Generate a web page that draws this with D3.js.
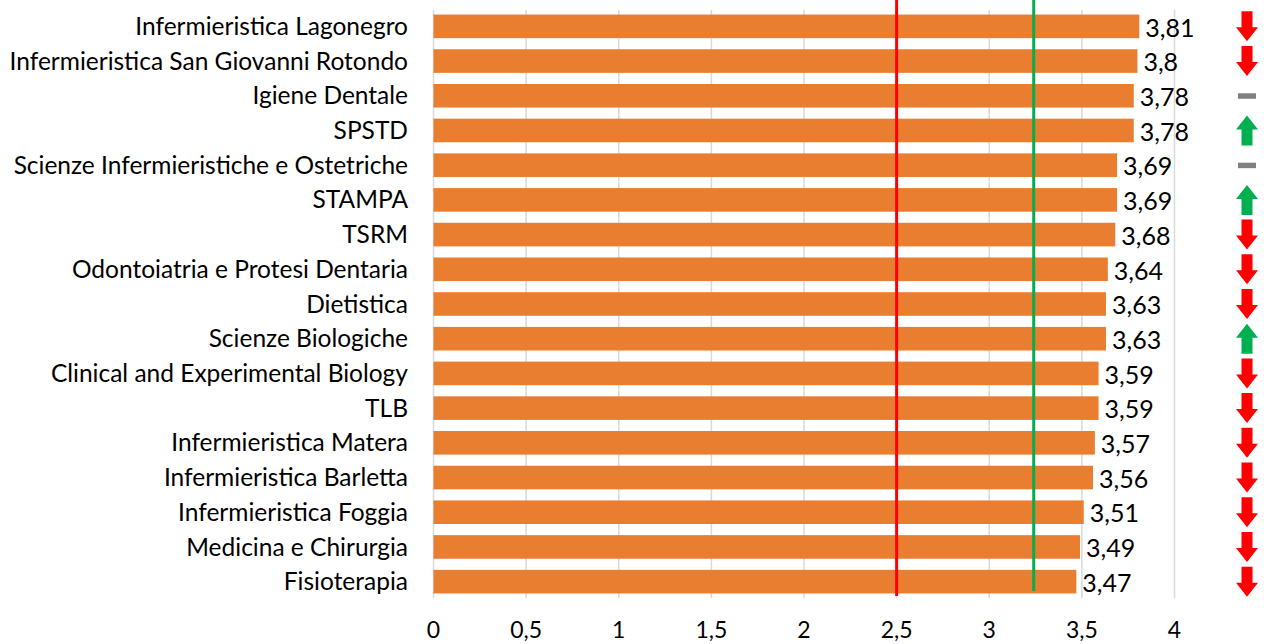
<!DOCTYPE html>
<html lang="it">
<head>
<meta charset="utf-8">
<title>Corsi di laurea</title>
<style>
  body { margin: 0; background: #fff; }
  text { font-family: Lato, "Open Sans", sans-serif; fill: #000; }
</style>
</head>
<body>
<svg width="1264" height="644"></svg>
<script src="https://d3js.org/d3.v7.min.js"></script>
<script>
// data
var corsi = ["Infermieristica Lagonegro", "Infermieristica San Giovanni Rotondo", "Igiene Dentale",
  "SPSTD", "Scienze Infermieristiche e Ostetriche", "STAMPA", "TSRM",
  "Odontoiatria e Protesi Dentaria", "Dietistica", "Scienze Biologiche",
  "Clinical and Experimental Biology", "TLB", "Infermieristica Matera",
  "Infermieristica Barletta", "Infermieristica Foggia", "Medicina e Chirurgia", "Fisioterapia"];
var punteggi = [3.81, 3.8, 3.78, 3.78, 3.69, 3.69, 3.68, 3.64, 3.63, 3.63, 3.59, 3.59, 3.57, 3.56, 3.51, 3.49, 3.47];
var tendenza = ["giu", "giu", "pari", "su", "pari", "su", "giu", "giu", "giu", "su", "giu", "giu", "giu", "giu", "giu", "giu", "giu"];
var ticks = [0, 0.5, 1, 1.5, 2, 2.5, 3, 3.5, 4];
var sogliaRossa = 2.5, sogliaVerde = 3.24;

var svg = d3.select("svg");

var x = d3.scaleLinear().domain([0, 4]).range([433.5, 1174.5]);
var y = d3.scaleBand().domain(corsi).range([9, 599]).paddingInner(0.32).paddingOuter(0.16);

var fmt = function(v) { return String(v).replace(".", ","); };

// griglia verticale
svg.append("g").selectAll("line").data(ticks).enter().append("line")
  .attr("x1", d => x(d)).attr("x2", d => x(d))
  .attr("y1", 10).attr("y2", 598)
  .attr("stroke", "#d9d9d9").attr("stroke-width", 1.5);

// barre
svg.append("g").selectAll("rect").data(corsi).enter().append("rect")
  .attr("x", x(0))
  .attr("y", d => y(d))
  .attr("width", (d, i) => x(punteggi[i]) - x(0))
  .attr("height", y.bandwidth())
  .attr("fill", "#e97d30");

// soglie
svg.append("line").attr("x1", x(sogliaRossa)).attr("x2", x(sogliaRossa))
  .attr("y1", 0).attr("y2", 596).attr("stroke", "#ff0000").attr("stroke-width", 3);
svg.append("line").attr("x1", x(sogliaVerde)).attr("x2", x(sogliaVerde))
  .attr("y1", 0).attr("y2", 591).attr("stroke", "#00b050").attr("stroke-width", 3);

// etichette categorie
svg.append("g").selectAll("text").data(corsi).enter().append("text")
  .attr("x", 408)
  .attr("y", d => y(d) + y.bandwidth() / 2)
  .attr("dy", "0.35em")
  .attr("text-anchor", "end")
  .style("font-size", "24.5px")
  .text(d => d);

// valori
svg.append("g").selectAll("text").data(corsi).enter().append("text")
  .attr("x", (d, i) => x(punteggi[i]) + 6)
  .attr("y", d => y(d) + y.bandwidth() / 2 + 1.5)
  .attr("dy", "0.35em")
  .style("font-size", "25px")
  .text((d, i) => fmt(punteggi[i]));

// asse x
svg.append("g").selectAll("text").data(ticks).enter().append("text")
  .attr("x", d => x(d))
  .attr("y", 638)
  .attr("text-anchor", "middle")
  .style("font-size", "23px")
  .text(fmt);

// frecce di tendenza
var frecce = svg.append("g").selectAll("g").data(corsi).enter().append("g")
  .attr("transform", d => "translate(1247," + (y(d) + y.bandwidth() / 2) + ")");

frecce.each(function(d, i) {
  var g = d3.select(this), t = tendenza[i];
  if (t === "pari") {
    g.append("rect").attr("x", -9).attr("y", -2.5).attr("width", 18).attr("height", 5.5).attr("fill", "#808080");
  } else {
    var p = "M-5.5,-15 L5.5,-15 L5.5,1 L11,1 L0,15 L-11,1 L-5.5,1 Z";
    g.append("path").attr("d", p)
      .attr("fill", t === "giu" ? "#ff0000" : "#00b050")
      .attr("transform", t === "su" ? "rotate(180)" : null);
  }
});
</script>
</body>
</html>
